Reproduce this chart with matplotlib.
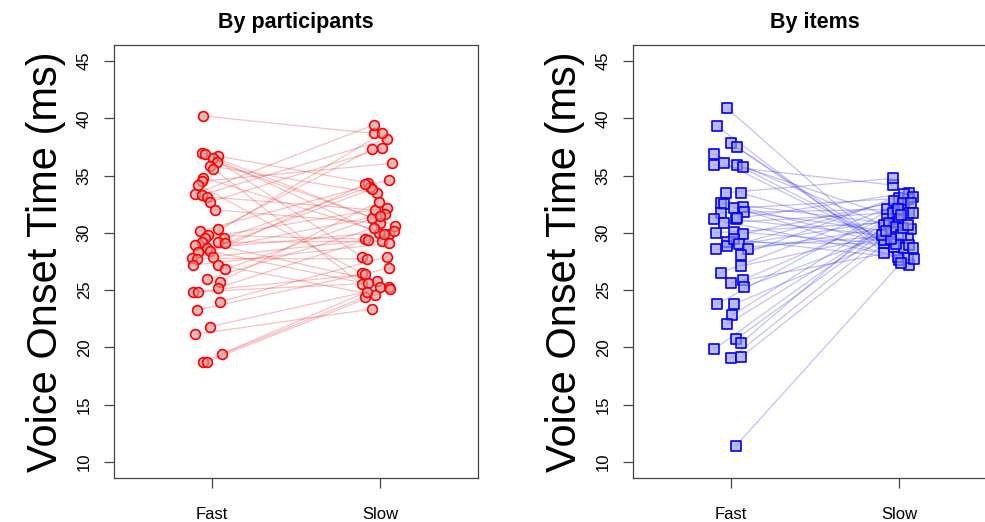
import matplotlib
matplotlib.use('Agg')
import matplotlib.pyplot as plt

plt.rcParams['font.family'] = ['Liberation Sans', 'DejaVu Sans']

conditions = ['Fast', 'Slow']
yticks = [10, 15, 20, 25, 30, 35, 40, 45]

# By participants: paired means (fast, slow) and x jitter
part_fast = [40.2, 37.0, 36.9, 36.7, 36.55, 36.15, 35.85, 35.6, 34.8, 34.5, 34.2, 33.4,
             33.3, 33.15, 32.7, 32.0, 30.33, 30.16, 29.8, 29.57, 29.52, 29.22, 29.17, 29.08,
             28.94, 28.65, 28.41, 28.35, 27.92, 27.78, 27.72, 27.19, 27.19, 26.84, 25.94, 25.73,
             25.21, 24.86, 24.86, 23.99, 23.26, 21.81, 21.14, 19.40, 18.75, 18.75]
part_slow = [38.68, 29.95, 31.32, 34.37, 27.92, 30.59, 33.45, 25.5, 29.87, 36.07, 26.47, 39.41,
             38.18, 31.99, 37.37, 30.83, 37.31, 34.61, 29.46, 32.19, 34.02, 25.79, 29.28, 33.82,
             38.68, 30.16, 25.30, 31.61, 29.37, 27.72, 34.23, 29.08, 24.57, 31.49, 30.39, 32.72,
             29.87, 26.38, 25.59, 27.92, 26.9, 25.30, 23.35, 24.42, 24.86, 25.1]
part_jit_fast = [-0.05, -0.06, -0.04, 0.04, 0.01, 0.03, -0.01, 0.01, -0.05, -0.06, -0.08, -0.10,
                 -0.06, -0.03, -0.01, 0.02, 0.04, -0.07, -0.02, -0.04, 0.07, -0.06, 0.04, 0.08,
                 -0.10, -0.03, -0.01, -0.08, 0.01, -0.12, -0.09, -0.11, 0.04, 0.08, -0.03, 0.05,
                 0.04, -0.11, -0.08, 0.05, -0.09, -0.01, -0.10, 0.06, -0.05, -0.03]
part_jit_slow = [-0.04, -0.01, -0.05, -0.07, -0.11, 0.09, -0.02, -0.11, 0.05, 0.07, -0.11, -0.04,
                 0.04, -0.03, 0.01, 0.00, -0.05, 0.05, -0.09, 0.04, -0.06, -0.02, 0.01, -0.05,
                 0.01, 0.08, 0.00, 0.03, -0.07, -0.08, -0.09, 0.05, -0.03, 0.00, -0.04, -0.01,
                 0.02, -0.09, -0.07, 0.04, 0.05, 0.05, -0.05, -0.09, -0.08, 0.06]

# By items
item_fast = [40.86, 39.32, 37.81, 37.46, 36.88, 35.92, 36.12, 35.92, 35.77, 33.5, 33.5, 32.63,
             32.52, 32.14, 32.23, 31.84, 31.76, 31.18, 30.88, 31.18, 31.26, 30.01, 30.10, 29.90,
             29.22, 28.85, 29.43, 29.02, 28.56, 28.06, 28.56, 27.1, 26.52, 25.65, 25.88, 25.24,
             23.79, 23.79, 22.83, 22.04, 20.71, 20.36, 19.83, 19.05, 19.14, 11.40]
item_slow = [27.63, 28.26, 29.14, 27.19, 30.68, 34.17, 28.73, 29.37, 31.55, 34.75, 29.81, 30.83,
             27.86, 33.01, 28.65, 30.10, 32.05, 27.78, 31.76, 29.52, 33.5, 30.97, 28.9, 32.92,
             29.0, 31.2, 27.69, 32.80, 30.53, 33.39, 29.81, 30.30, 32.63, 28.65, 31.99, 30.39,
             33.10, 29.5, 32.57, 31.76, 30.2, 32.05, 31.55, 31.70, 30.68, 27.39]
item_jit_fast = [-0.02, -0.08, 0.00, 0.04, -0.10, -0.10, -0.04, 0.04, 0.07, -0.03, 0.06, -0.06,
                 -0.04, 0.02, 0.07, 0.08, -0.06, -0.10, -0.04, 0.03, 0.04, -0.09, 0.02, 0.07,
                 -0.02, -0.02, 0.02, 0.05, 0.10, 0.06, -0.09, 0.06, -0.06, 0.00, 0.07, 0.08,
                 -0.08, 0.02, 0.01, -0.02, 0.03, 0.06, -0.10, 0.00, 0.06, 0.03]
item_jit_slow = [0.00, -0.09, -0.09, 0.06, -0.09, -0.04, -0.03, -0.09, -0.07, -0.04, -0.10, -0.06,
                 -0.01, 0.00, 0.03, -0.05, -0.07, 0.05, -0.04, 0.05, 0.06, -0.01, 0.06, 0.05,
                 -0.02, 0.00, 0.09, -0.03, -0.02, 0.03, 0.01, 0.07, 0.02, 0.08, 0.03, 0.02,
                 0.08, -0.05, 0.07, 0.06, -0.08, -0.01, 0.01, 0.08, 0.05, 0.01]

fig = plt.figure(figsize=(9.85, 5.22), dpi=100)
W, H = 985, 522
ax1 = fig.add_axes([114 / W, 1 - 478 / H, 364 / W, 433 / H])
ax2 = fig.add_axes([633 / W, 1 - 478 / H, 364 / W, 433 / H])


def panel(ax, fast, slow, jf, js, col, line_col, face, marker, msize, title):
    for f, s, a, b in zip(fast, slow, jf, js):
        ax.plot([1 + a, 2 + b], [f, s], color=line_col, lw=0.9, zorder=1)
    xf = [1 + a for a in jf]
    xs = [2 + b for b in js]
    ax.scatter(xf, fast, marker=marker, s=msize, facecolor=face, edgecolor=col, linewidth=1.2, zorder=2)
    ax.scatter(xs, slow, marker=marker, s=msize, facecolor=face, edgecolor=col, linewidth=1.2, zorder=2)
    ax.set_xlim(0.42, 2.58)
    ax.set_ylim(8.6, 46.4)
    ax.set_xticks([1, 2])
    ax.set_xticklabels(conditions, fontsize=12)
    ax.set_yticks(yticks)
    ax.set_yticklabels([str(t) for t in yticks], fontsize=12, rotation=90, va='center')
    ax.tick_params(axis='both', length=7, width=0.9, color='#444444')
    ax.tick_params(axis='y', pad=9)
    ax.tick_params(axis='x', pad=14)
    for sp in ax.spines.values():
        sp.set_color('#444444')
        sp.set_linewidth(0.9)
    ax.set_ylabel('Voice Onset Time (ms)', fontsize=30, labelpad=8)
    ax.set_title(title, fontsize=15.5, fontweight='bold', pad=12)


panel(ax1, part_fast, part_slow, part_jit_fast, part_jit_slow,
      '#FF0000', (0.9, 0.2, 0.2, 0.3), (0.85, 0.6, 0.6, 0.65), 'o', 50, 'By participants')
panel(ax2, item_fast, item_slow, item_jit_fast, item_jit_slow,
      '#0000FF', (0.2, 0.2, 0.9, 0.3), (0.6, 0.6, 0.85, 0.65), 's', 42, 'By items')

fig.savefig('out.png', dpi=100)
